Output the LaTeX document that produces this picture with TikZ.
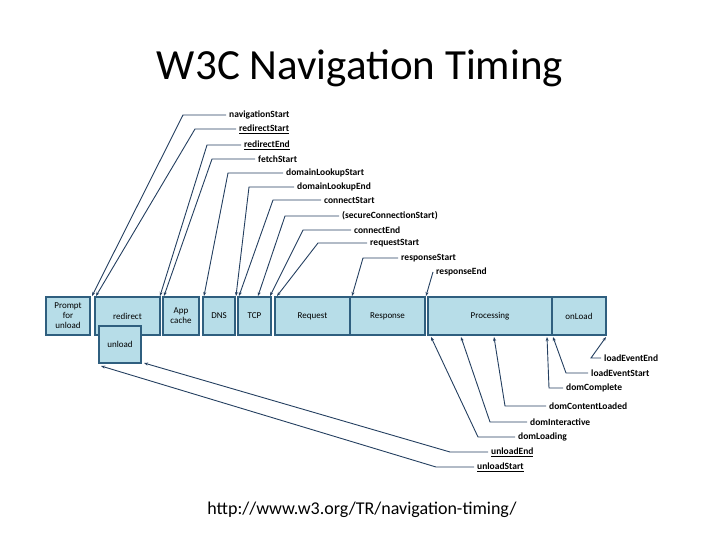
\documentclass[tikz,border=0pt]{standalone}
\usepackage{fontspec}
\setmainfont{Carlito}
\usetikzlibrary{arrows.meta}
\definecolor{boxfill}{HTML}{B7DDE8}
\definecolor{boxline}{HTML}{2F5F7F}
\definecolor{leader}{HTML}{243F60}
\begin{document}
\begin{tikzpicture}[x=1pt,y=-1pt,
  box/.style={draw=boxline,fill=boxfill,line width=1.3pt,inner sep=0pt,align=center,font=\fontsize{9}{10}\selectfont},
  lbl/.style={anchor=west,inner sep=3pt,font=\bfseries\fontsize{9.5}{10}\selectfont},
  ld/.style={draw=leader,line width=0.9pt,-{Stealth[length=4pt,width=3pt]}}]
\useasboundingbox (0,0) rectangle (720,540);
\node[font=\fontsize{43}{48}\selectfont] (title) at (360,68) {W3C Navigation Timing};
\node[font=\fontsize{18}{20}\selectfont] (url) at (362,510) {http://www.w3.org/TR/navigation-timing/};
\newcommand\bx[6]{\node[box,minimum width=#3-#2,minimum height=#5-#4] (#1) at ({(#2+#3)/2},{(#4+#5)/2}) {#6};}
\bx{prompt}{46}{90}{297}{335}{Prompt\\for\\unload}
\bx{redirect}{95}{160}{297}{335}{redirect}
\bx{unload}{99}{141}{326}{363}{unload}
\bx{app}{163}{199}{297}{335}{App\\cache}
\bx{dns}{203}{235}{297}{335}{DNS}
\bx{tcp}{238}{271}{297}{335}{TCP}
\bx{req}{275}{350}{297}{335}{Request}
\bx{resp}{350}{425}{297}{335}{Response}
\bx{proc}{428}{552}{297}{335}{Processing}
\bx{onload}{552}{606}{297}{335}{onLoad}
\newcommand\tl[6]{\node[lbl] (#1) at (#2,#3) {#6};
  \coordinate (#1c) at (#4,#3); \coordinate (#1t) at (#5,296);
  \draw[ld] (#1.west) -- (#1c) -- (#1t);}
\tl{ns}{226}{115}{183}{92}{navigationStart}
\tl{rs}{236}{129}{195}{96}{\underline{redirectStart}}
\tl{re}{241}{145}{207}{160}{\underline{redirectEnd}}
\tl{fs}{255}{159}{212}{164}{fetchStart}
\tl{dls}{283}{173}{228}{204}{domainLookupStart}
\tl{dle}{294}{187}{249}{236}{domainLookupEnd}
\tl{cs}{321}{200}{273}{239}{connectStart}
\tl{scs}{339}{216}{285}{258}{(secureConnectionStart)}
\tl{ce}{351}{230}{303}{270}{connectEnd}
\tl{rqs}{367}{243}{318}{277}{requestStart}
\tl{rps}{398}{258}{363}{352}{responseStart}
\node[lbl] (rpe) at (433,272) {responseEnd};
\coordinate (rpet) at (426,296);
\draw[ld] (rpe.west) -- (rpet);
\newcommand\bl[7]{\node[lbl] (#1) at (#2,#3) {#7};
  \coordinate (#1c) at (#4,#3); \coordinate (#1t) at (#5,#6);
  \draw[ld] (#1.west) -- (#1c) -- (#1t);}
\bl{lee}{601}{358}{591}{606}{337}{loadEventEnd}
\bl{les}{588}{373}{566}{553}{337}{loadEventStart}
\bl{dc}{563}{388}{549}{547}{337}{domComplete}
\bl{dcl}{546}{406}{505}{494}{337}{domContentLoaded}
\bl{di}{527}{422}{490}{461}{337}{domInteractive}
\bl{dl}{515}{437}{478}{431}{337}{domLoading}
\bl{ue}{488}{452}{450}{144}{363}{\underline{unloadEnd}}
\bl{us}{474}{467}{436}{101}{366}{\underline{unloadStart}}
\end{tikzpicture}
\end{document}
